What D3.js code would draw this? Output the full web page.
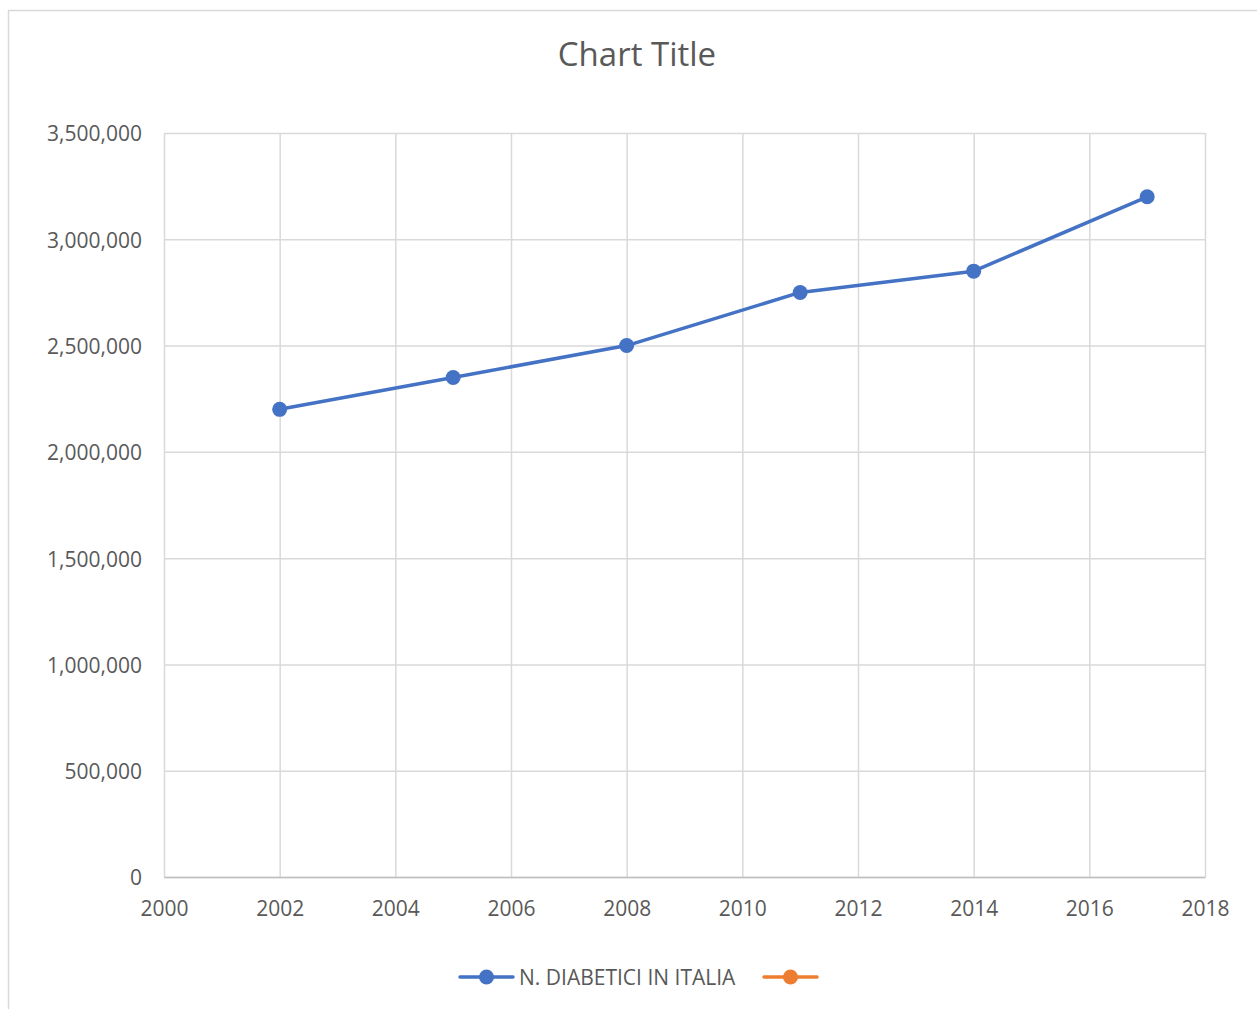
<!DOCTYPE html>
<html>
<head>
<meta charset="utf-8">
<script src="https://cdn.jsdelivr.net/npm/d3@7"></script>
<style>
  body { margin: 0; background: #fff; }
  svg { display: block; }
</style>
</head>
<body>
<svg id="chart"></svg>
<script>
// data
var years = [2002, 2005, 2008, 2011, 2014, 2017];
var diabetici = [2200000, 2350000, 2500000, 2750000, 2850000, 3200000];
var seriesNames = ["N. DIABETICI IN ITALIA", ""];
var xTicks = [2000, 2002, 2004, 2006, 2008, 2010, 2012, 2014, 2016, 2018];
var yTicks = [0, 500000, 1000000, 1500000, 2000000, 2500000, 3000000, 3500000];

var W = 1257, H = 1009;
var margin = {top: 133, right: 52, bottom: 132, left: 164};
var w = W - margin.left - margin.right;
var h = H - margin.top - margin.bottom;
var font = "'Open Sans', sans-serif";
var textColor = "#595959";
var gridColor = "#d9d9d9";
var colors = ["#4472C4", "#ED7D31"];

var svg = d3.select("#chart").attr("width", W).attr("height", H);

// chart border (runs off the right/bottom edges)
svg.append("rect")
    .attr("x", 8.5).attr("y", 10.5)
    .attr("width", 1300).attr("height", 1100)
    .attr("fill", "#fff")
    .attr("stroke", gridColor)
    .attr("stroke-width", 1.5);

svg.append("text")
    .attr("x", 637).attr("y", 66)
    .attr("text-anchor", "middle")
    .style("font-family", font)
    .style("font-size", "33px")
    .attr("fill", textColor)
    .text("Chart Title");

var x = d3.scaleLinear().domain([2000, 2018]).range([0, w]);
var y = d3.scaleLinear().domain([0, 3500000]).range([h, 0]);

var g = svg.append("g")
    .attr("transform", "translate(" + margin.left + "," + margin.top + ")");

// gridlines
g.append("g")
    .call(d3.axisBottom(x).tickValues(xTicks).tickSize(h).tickFormat(""))
    .call(function (s) {
        s.select(".domain").remove();
        s.selectAll("line").attr("stroke", gridColor).attr("stroke-width", 1.5);
    });
g.append("g")
    .call(d3.axisLeft(y).tickValues(yTicks).tickSize(-w).tickFormat(""))
    .call(function (s) {
        s.select(".domain").remove();
        s.selectAll("line").attr("stroke", gridColor).attr("stroke-width", 1.5);
    });

// axes (labels only)
var yAxis = g.append("g")
    .call(d3.axisLeft(y).tickValues(yTicks).tickSize(0).tickPadding(22).tickFormat(d3.format(",")));
yAxis.select(".domain").remove();
yAxis.selectAll("text")
    .attr("dy", "0.38em")
    .style("font-family", font).style("font-size", "21px").attr("fill", textColor);

var xAxis = g.append("g")
    .attr("transform", "translate(0," + h + ")")
    .call(d3.axisBottom(x).tickValues(xTicks).tickSize(0).tickPadding(24).tickFormat(d3.format("d")));
xAxis.select(".domain").attr("stroke", "#bfbfbf").attr("stroke-width", 1.5);
xAxis.selectAll("text")
    .style("font-family", font).style("font-size", "21px").attr("fill", textColor);

// series
var pts = years.map(function (yr, i) { return {x: yr, y: diabetici[i]}; });
var line = d3.line().x(function (d) { return x(d.x); }).y(function (d) { return y(d.y); });

g.append("path")
    .datum(pts)
    .attr("fill", "none")
    .attr("stroke", colors[0])
    .attr("stroke-width", 3.5)
    .attr("stroke-linejoin", "round")
    .attr("d", line);

g.selectAll("circle.pt")
    .data(pts)
    .enter()
    .append("circle")
    .attr("class", "pt")
    .attr("cx", function (d) { return x(d.x); })
    .attr("cy", function (d) { return y(d.y); })
    .attr("r", 7.5)
    .attr("fill", colors[0]);

// legend
var legendY = 977;
var legendX = [460, 764];
seriesNames.forEach(function (name, i) {
    var lg = svg.append("g").attr("transform", "translate(" + legendX[i] + "," + legendY + ")");
    lg.append("line")
        .attr("x1", 0).attr("x2", 53)
        .attr("stroke", colors[i]).attr("stroke-width", 3.5).attr("stroke-linecap", "round");
    lg.append("circle").attr("cx", 26.5).attr("r", 7.5).attr("fill", colors[i]);
    if (name) {
        lg.append("text")
            .attr("x", 59).attr("y", 7.5)
            .style("font-family", font).style("font-size", "21px")
            .attr("fill", textColor)
            .text(name);
    }
});
</script>
</body>
</html>
